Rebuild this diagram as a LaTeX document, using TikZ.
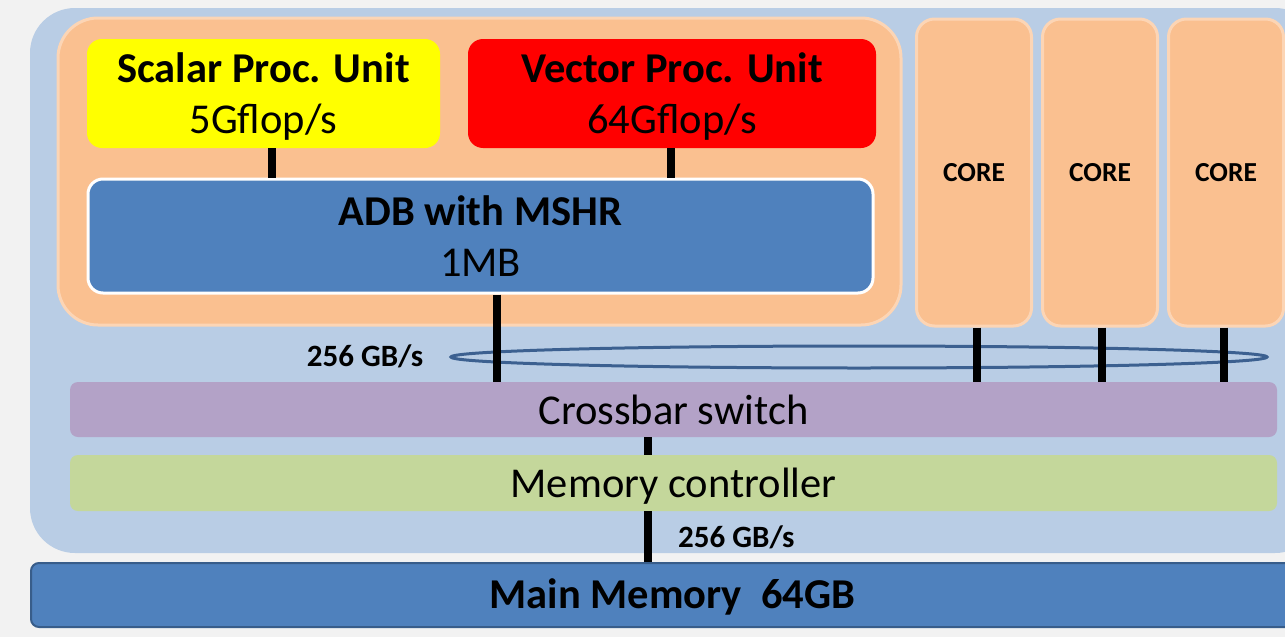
\documentclass[tikz,border=0pt]{standalone}
\usepackage{fontspec}
\setmainfont{Carlito}
\usetikzlibrary{shapes.geometric}
\definecolor{bggray}{HTML}{F2F2F2}
\definecolor{chipblue}{HTML}{B9CDE5}
\definecolor{coreorange}{HTML}{FAC090}
\definecolor{coreedge}{HTML}{FCD5B5}
\definecolor{adbblue}{HTML}{4F81BD}
\definecolor{memedge}{HTML}{385D8A}
\definecolor{xbarpurple}{HTML}{B3A2C7}
\definecolor{mcgreen}{HTML}{C4D79B}
\definecolor{ringblue}{HTML}{3C6090}
\definecolor{unityellow}{RGB}{255,255,0}
\definecolor{unitred}{RGB}{255,0,0}
\begin{document}
\begin{tikzpicture}[x=1pt,y=-1pt,
  box/.style={rectangle, inner sep=0pt, align=center, font=\fontsize{42.5}{51}\selectfont},
  corebox/.style={box, minimum width=115pt, minimum height=307pt, rounded corners=18pt,
     fill=coreorange, draw=coreedge, line width=3pt, font=\fontsize{27.5}{33}\selectfont\bfseries},
  bwlabel/.style={inner sep=0pt, font=\fontsize{31}{37}\selectfont\bfseries},
  link/.style={line width=8.5pt, black},
]
\useasboundingbox (0,0) rectangle (1285,637);
\fill[bggray] (0,0) rectangle (1285,637);
% chip background
\node[box, fill=chipblue, rounded corners=45pt, minimum width=1290pt, minimum height=545pt] (chip) at (675,280.5) {};
% vector pod
\node[box, fill=coreorange, draw=coreedge, line width=3pt, rounded corners=40pt,
      minimum width=843pt, minimum height=307pt] (pod) at (479.5,171.5) {};
\node[box, fill=unityellow, rounded corners=15pt, minimum width=353pt, minimum height=109pt] (scalar) at (263.5,93.5)
  {\raisebox{-14.5pt}[0pt][0pt]{\bfseries Scalar Proc. Unit}\\\raisebox{-14.5pt}[0pt][0pt]{5Gflop/s}};
\node[box, fill=unitred, rounded corners=15pt, minimum width=408pt, minimum height=109pt] (vector) at (672,93.5)
  {\raisebox{-14.5pt}[0pt][0pt]{\bfseries Vector Proc. Unit}\\\raisebox{-14.5pt}[0pt][0pt]{64Gflop/s}};
\node[box, fill=adbblue, draw=white, line width=3pt, rounded corners=15pt, minimum width=785pt, minimum height=114pt] (adb) at (480.5,236)
  {\bfseries ADB with MSHR\\1MB};
% cores
\node[corebox] (core1) at (974,172.5) {CORE};
\node[corebox] (core2) at (1100,172.5) {CORE};
\node[corebox] (core3) at (1226,172.5) {CORE};
% ring
\node[ellipse, draw=ringblue, line width=3pt, minimum width=816pt, minimum height=22pt, inner sep=0pt] (ring) at (859,357) {};
\node[bwlabel] (bw1) at (365,356) {256 GB/s};
% crossbar and memory controller
\node[box, fill=xbarpurple, rounded corners=8pt, minimum width=1207pt, minimum height=55pt] (xbar) at (673.5,409.5) {Crossbar switch};
\node[box, fill=mcgreen, rounded corners=8pt, minimum width=1207pt, minimum height=56pt] (mc) at (673.5,483) {\raisebox{-14pt}[0pt][0pt]{Memory controller}};
% main memory
\node[box, fill=adbblue, draw=memedge, line width=2pt, rounded corners=8pt, minimum width=1283pt, minimum height=64pt] (mem) at (672.5,595)
  {\raisebox{-13pt}[0pt][0pt]{\bfseries Main Memory~ 64GB}};
\node[bwlabel, anchor=west] (bw2) at (678,537) {256 GB/s};
% link x positions
\coordinate (xs) at (272,0);
\coordinate (xv) at (671,0);
\coordinate (xa) at (497,0);
\coordinate (xc1) at (977,0);
\coordinate (xc2) at (1102,0);
\coordinate (xc3) at (1224,0);
\coordinate (xm) at (648,0);
% links
\draw[link] (scalar.south -| xs) -- (adb.north -| xs);
\draw[link] (vector.south -| xv) -- (adb.north -| xv);
\draw[link] (adb.south -| xa) -- (xbar.north -| xa);
\draw[link] (core1.south -| xc1) -- (xbar.north -| xc1);
\draw[link] (core2.south -| xc2) -- (xbar.north -| xc2);
\draw[link] (core3.south -| xc3) -- (xbar.north -| xc3);
\draw[link] (xbar.south -| xm) -- (mc.north -| xm);
\draw[link] (mc.south -| xm) -- (mem.north -| xm);
\end{tikzpicture}
\end{document}
